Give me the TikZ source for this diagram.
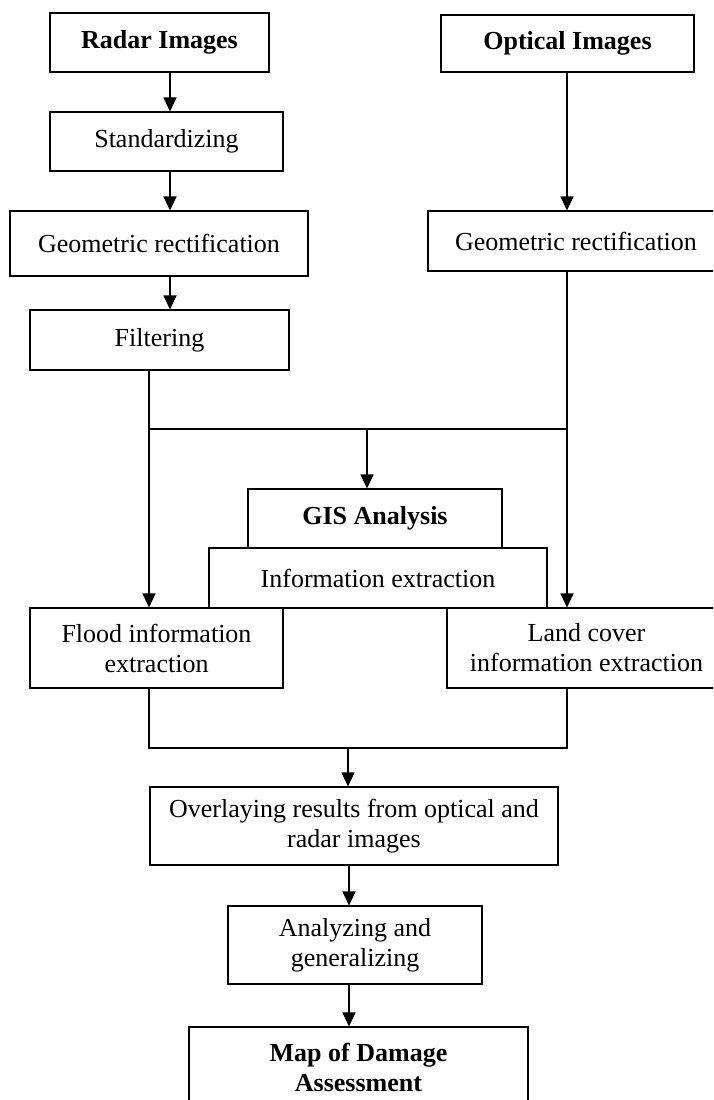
\documentclass[tikz,border=0pt]{standalone}
\usepackage{fontspec}
\setmainfont{Liberation Serif}
\usetikzlibrary{arrows.meta}
\begin{document}
\begin{tikzpicture}[x=1pt,y=-1pt,
  box/.style={draw, line width=1.1pt, inner sep=0pt, align=center, font=\fontsize{26}{30}\selectfont},
  bbox/.style={box, font=\fontsize{26}{30}\selectfont\bfseries},
  conn/.style={line width=1.1pt},
  arr/.style={conn, -{Triangle[length=14pt,width=13pt]}}]
\useasboundingbox (0,0) rectangle (713,1100);
\clip (0,0) rectangle (713,1100);
% left column
\node[bbox, minimum width=219pt, minimum height=59pt] (radar) at (159.5,42.5) {Radar Images};
\node[box, minimum width=233pt, minimum height=59pt] (std) at (166.5,141.5) {Standardizing};
\node[box, minimum width=298pt, minimum height=65pt] (geoL) at (159,243.5) {Geometric rectification};
\node[box, minimum width=259pt, minimum height=60pt] (filt) at (159.5,340) {Filtering};
% right column
\node[bbox, minimum width=253pt, minimum height=57pt] (optical) at (567.5,43.5) {Optical Images};
\node[box, minimum width=296pt, minimum height=60pt] (geoR) at (576,241) {Geometric rectification};
% middle
\node[bbox, minimum width=254pt, minimum height=59pt] (gis) at (375,518.5) {GIS Analysis};
\node[box, minimum width=338pt, minimum height=60pt] (info) at (378,578) {Information extraction};
\node[box, minimum width=253pt, minimum height=80pt] (flood) at (156.5,648) {Flood information\\extraction};
\node[box, minimum width=279pt, minimum height=80pt] (land) at (586.5,648) {Land cover\\information extraction};
\node[box, minimum width=408pt, minimum height=78pt] (overlay) at (354,826) {Overlaying results from optical and\\radar images};
\node[box, minimum width=254pt, minimum height=78pt] (analyz) at (355,945) {Analyzing and\\generalizing};
\node[bbox, minimum width=339pt, minimum height=80pt] (map) at (358.5,1067) {Map of Damage\\Assessment};
% helper coordinates
\coordinate (xL) at (170,0);
\coordinate (xF) at (149,0);
\coordinate (xR) at (567,0);
\coordinate (j1) at (149,429);
\coordinate (j2) at (567,429);
\coordinate (j3) at (367,429);
\coordinate (b1) at (149,748);
\coordinate (b2) at (567,748);
\coordinate (b3) at (348,748);
\coordinate (xM) at (349,0);
% connectors
\draw[arr] (radar.south -| xL) -- (std.north -| xL);
\draw[arr] (std.south -| xL) -- (geoL.north -| xL);
\draw[arr] (geoL.south -| xL) -- (filt.north -| xL);
\draw[arr] (optical.south -| xR) -- (geoR.north -| xR);
\draw[arr] (filt.south -| xF) -- (flood.north -| xF);
\draw[arr] (geoR.south -| xR) -- (land.north -| xR);
\draw[conn] (j1) -- (j2);
\draw[arr] (j3) -- (gis.north -| j3);
\draw[conn] (flood.south -| xF) -- (b1) -- (b2) -- (land.south -| xR);
\draw[arr] (b3) -- (overlay.north -| b3);
\draw[arr] (overlay.south -| xM) -- (analyz.north -| xM);
\draw[arr] (analyz.south -| xM) -- (map.north -| xM);
\end{tikzpicture}
\end{document}
